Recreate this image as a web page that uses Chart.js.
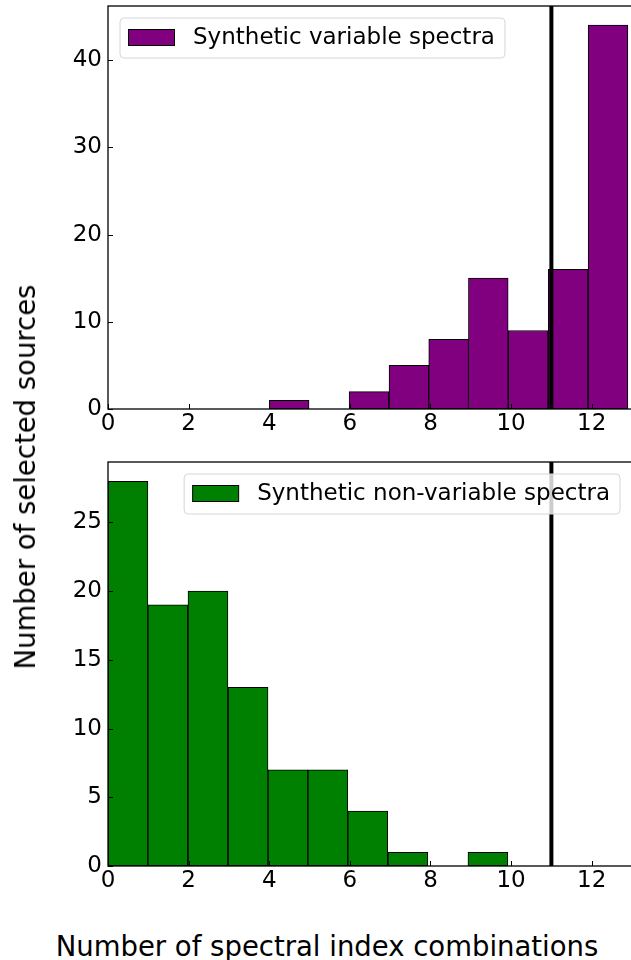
<!DOCTYPE html>
<html><head><meta charset="utf-8">
<script src="https://cdn.jsdelivr.net/npm/chart.js@4"></script>
<style>
html,body{margin:0;padding:0;background:#fff;overflow:hidden;width:631px;height:960px;position:relative;}
#c1{position:absolute;left:0;top:0;}
#c2{position:absolute;left:0;top:440px;}
.lbl{position:absolute;font-family:"DejaVu Sans";font-size:27.5px;color:#000;white-space:nowrap;line-height:28px;}
#xt{left:327px;top:932px;transform:translateX(-50%);}
#yt{left:25px;top:477px;transform:translate(-50%,-50%) rotate(-90deg);}
</style></head><body>
<canvas id="c1" width="633" height="440"></canvas>
<canvas id="c2" width="633" height="460"></canvas>
<div class="lbl" id="xt">Number of spectral index combinations</div>
<div class="lbl" id="yt">Number of selected sources</div>
<script>
// Top histogram (synthetic variable spectra): bin edges and counts
const topEdges  = [4, 4.99, 5.98, 6.97, 7.96, 8.94, 9.93, 10.92, 11.91, 12.9];
const topCounts = [1, 0, 2, 5, 8, 15, 9, 16, 44];
// Bottom histogram (synthetic non-variable spectra)
const botEdges  = [0, 0.99, 1.98, 2.98, 3.97, 4.96, 5.95, 6.94, 7.94, 8.93, 9.92];
const botCounts = [28, 19, 20, 13, 7, 7, 4, 1, 0, 1];
// Tick labels
const xTicks    = [0, 2, 4, 6, 8, 10, 12];
const topYTicks = [0, 10, 20, 30, 40];
const botYTicks = [0, 5, 10, 15, 20, 25];
// Threshold line
const cutLine = 11;
const topLabel = 'Synthetic variable spectra';
const botLabel = 'Synthetic non-variable spectra';

const FONT = '"DejaVu Sans"';

function roundRect(ctx, x, y, w, h, r){
  ctx.beginPath();
  ctx.moveTo(x+r, y);
  ctx.lineTo(x+w-r, y); ctx.arcTo(x+w, y, x+w, y+r, r);
  ctx.lineTo(x+w, y+h-r); ctx.arcTo(x+w, y+h, x+w-r, y+h, r);
  ctx.lineTo(x+r, y+h); ctx.arcTo(x, y+h, x, y+h-r, r);
  ctx.lineTo(x, y+r); ctx.arcTo(x, y, x+r, y, r);
  ctx.closePath();
}

function overlay(yTicks, label, color, legendSide){
  return {
    id: 'overlay',
    afterDatasetsDraw(chart){
      const ctx = chart.ctx, ca = chart.chartArea;
      const xs = chart.scales.x, ys = chart.scales.y;
      ctx.save();
      // threshold line
      const lx = xs.getPixelForValue(cutLine);
      ctx.strokeStyle = '#000';
      ctx.lineWidth = 4;
      ctx.beginPath(); ctx.moveTo(lx, ca.top); ctx.lineTo(lx, ca.bottom); ctx.stroke();
      // frame
      ctx.lineWidth = 1.3;
      ctx.strokeRect(ca.left, ca.top, ca.right - ca.left, ca.bottom - ca.top);
      // inward ticks
      ctx.lineWidth = 1;
      xTicks.forEach(v => {
        const p = Math.round(xs.getPixelForValue(v)) + 0.5;
        ctx.beginPath(); ctx.moveTo(p, ca.bottom); ctx.lineTo(p, ca.bottom - 5); ctx.stroke();
      });
      yTicks.forEach(v => {
        const p = Math.round(ys.getPixelForValue(v)) + 0.5;
        ctx.beginPath(); ctx.moveTo(ca.left, p); ctx.lineTo(ca.left + 5, p); ctx.stroke();
      });
      // legend
      ctx.font = '23px ' + FONT;
      const tw = ctx.measureText(label).width;
      const bw = 73 + tw + 10, bh = 40;
      const bx = legendSide === 'left' ? ca.left + 12 : ca.right - 12 - bw;
      const by = ca.top + 12;
      roundRect(ctx, bx, by, bw, bh, 4);
      ctx.fillStyle = 'rgba(255,255,255,0.8)';
      ctx.fill();
      ctx.strokeStyle = '#d6d6d6';
      ctx.lineWidth = 1;
      ctx.stroke();
      ctx.fillStyle = color;
      ctx.fillRect(bx + 8.5, by + 11.5, 46, 16);
      ctx.strokeStyle = '#000';
      ctx.strokeRect(bx + 8.5, by + 11.5, 46, 16);
      ctx.fillStyle = '#000';
      ctx.textBaseline = 'middle';
      ctx.textAlign = 'left';
      ctx.fillText(label, bx + 73, by + 20);
      ctx.restore();
    }
  };
}

function makeChart(id, edges, counts, color, yMax, yTicks, padTop, xH, label, side){
  const data = counts.map((c, i) => ({x: (edges[i] + edges[i+1]) / 2, y: c}));
  const tickFont = {family: 'DejaVu Sans', size: 23};
  return new Chart(document.getElementById(id), {
    type: 'bar',
    data: {datasets: [{
      label: label, data: data,
      backgroundColor: color, borderColor: '#000', borderWidth: 1,
      borderSkipped: false, barPercentage: 1, categoryPercentage: 1
    }]},
    options: {
      responsive: false, animation: false, events: [],
      layout: {padding: {top: padTop, right: 1, left: 0, bottom: 0}},
      plugins: {legend: {display: false}, tooltip: {enabled: false}},
      scales: {
        x: {
          type: 'linear', min: 0, max: 13, offset: false,
          afterBuildTicks: s => { s.ticks = xTicks.map(v => ({value: v})); },
          afterFit: s => { s.height = xH; s.paddingLeft = 0; s.paddingRight = 0; },
          grid: {display: false, drawTicks: false, offset: false},
          border: {display: false},
          ticks: {padding: 1, color: '#000', font: tickFont, maxRotation: 0, autoSkip: false}
        },
        y: {
          type: 'linear', min: 0, max: yMax,
          afterBuildTicks: s => { s.ticks = yTicks.map(v => ({value: v})); },
          afterFit: s => { s.width = 108; s.paddingTop = 0; s.paddingBottom = 0; },
          grid: {display: false, drawTicks: false},
          border: {display: false},
          ticks: {padding: 6, color: '#000', font: tickFont, autoSkip: false}
        }
      }
    },
    plugins: [overlay(yTicks, label, color, side)]
  });
}

makeChart('c1', topEdges, topCounts, '#800080', 46.2, topYTicks, 6, 31, topLabel, 'left');
makeChart('c2', botEdges, botCounts, '#008000', 29.4, botYTicks, 22, 34, botLabel, 'right');
</script>
</body></html>
